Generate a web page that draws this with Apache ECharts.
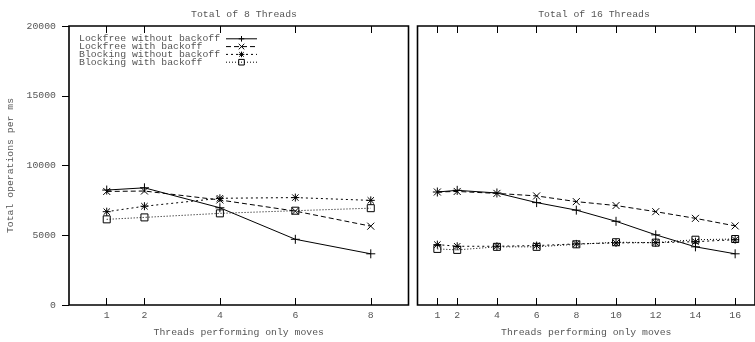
<!DOCTYPE html>
<html>
<head>
<meta charset="utf-8">
<script src="https://cdn.jsdelivr.net/npm/echarts@6/dist/echarts.min.js"></script>
<style>html,body{margin:0;padding:0;background:#fff}#c{width:755px;height:342px}</style>
</head>
<body>
<div id="c"></div>
<script>
// ---- data ----
var seriesNames = ['Lockfree without backoff', 'Lockfree with backoff', 'Blocking without backoff', 'Blocking with backoff'];
var panelTitles = ['Total of 8 Threads', 'Total of 16 Threads'];
var xLabel = 'Threads performing only moves';
var yLabel = 'Total operations per ms';

var threads8 = [1, 2, 4, 6, 8];
var lockfreeNoBackoff8 = [8240, 8400, 6970, 4710, 3670];
var lockfreeBackoff8 = [8140, 8170, 7530, 6730, 5650];
var blockingNoBackoff8 = [6690, 7080, 7650, 7700, 7500];
var blockingBackoff8 = [6140, 6280, 6570, 6760, 6940];

var threads16 = [1, 2, 4, 6, 8, 10, 12, 14, 16];
var lockfreeNoBackoff16 = [8100, 8220, 8030, 7340, 6800, 6000, 5030, 4170, 3670];
var lockfreeBackoff16 = [8100, 8140, 8000, 7820, 7410, 7130, 6690, 6210, 5670];
var blockingNoBackoff16 = [4330, 4210, 4210, 4260, 4380, 4450, 4470, 4540, 4680];
var blockingBackoff16 = [4020, 3950, 4170, 4170, 4350, 4500, 4470, 4680, 4730];

var yTicks = [0, 5000, 10000, 15000, 20000];

// ---- styling ----
var FONT = 'Liberation Mono';
var TXT = '#555';
var styles = [
  {symbol: 'path://M0,5L10,5M5,0L5,10', size: 9, dash: 'solid'},
  {symbol: 'path://M0,0L10,10M10,0L0,10', size: 7, dash: [5, 3]},
  {symbol: 'path://M0,5L10,5M5,0L5,10M1,1L9,9M9,1L1,9', size: 8, dash: [2, 3]},
  {symbol: 'path://M0,0L10,0L10,10L0,10Z', size: 7, dash: [1, 2]}
];

function zip(xs, ys) { return xs.map(function (x, i) { return [x, ys[i]]; }); }

var panelData = [
  [lockfreeNoBackoff8, lockfreeBackoff8, blockingNoBackoff8, blockingBackoff8],
  [lockfreeNoBackoff16, lockfreeBackoff16, blockingNoBackoff16, blockingBackoff16]
];
var panelX = [threads8, threads16];

var series = [];
for (var p = 0; p < 2; p++) {
  for (var s = 0; s < 4; s++) {
    series.push({
      type: 'line',
      name: seriesNames[s],
      xAxisIndex: p * 2,
      yAxisIndex: p,
      data: zip(panelX[p], panelData[p][s]),
      symbol: styles[s].symbol,
      symbolSize: styles[s].size,
      showAllSymbol: true,
      animation: false,
      lineStyle: {color: '#000', width: 1, type: styles[s].dash},
      itemStyle: {color: 'none', borderColor: '#000', borderWidth: 1},
      emphasis: {disabled: true}
    });
  }
}

function xAxisPair(gridIndex, maxV, ticks) {
  var bottom = {
    type: 'value', gridIndex: gridIndex, min: 0, max: maxV, position: 'bottom',
    name: xLabel, nameLocation: 'middle', nameGap: 22,
    nameTextStyle: {fontFamily: FONT, fontSize: 9.8, color: TXT},
    axisLine: {show: false},
    splitLine: {show: false},
    axisTick: {show: true, inside: true, length: 7, customValues: ticks, lineStyle: {color: '#000', width: 1}},
    axisLabel: {show: true, customValues: ticks, margin: 5, fontFamily: FONT, fontSize: 9.8, color: TXT}
  };
  var top = {
    type: 'value', gridIndex: gridIndex, min: 0, max: maxV, position: 'top',
    axisLine: {show: false},
    splitLine: {show: false},
    axisTick: {show: true, inside: true, length: 7, customValues: ticks, lineStyle: {color: '#000', width: 1}},
    axisLabel: {show: false, customValues: ticks}
  };
  return [bottom, top];
}

var option = {
  animation: false,
  title: [
    {text: panelTitles[0], left: 239, top: 4, textAlign: 'center',
     textStyle: {fontFamily: FONT, fontSize: 9.8, fontWeight: 'normal', color: TXT}},
    {text: panelTitles[1], left: 589, top: 4, textAlign: 'center',
     textStyle: {fontFamily: FONT, fontSize: 9.8, fontWeight: 'normal', color: TXT}}
  ],
  legend: {
    orient: 'vertical', left: 74, top: 28.5, align: 'right',
    itemWidth: 31, itemHeight: 7, itemGap: -2.8,
    selectedMode: false,
    data: seriesNames,
    formatter: '{a|{name}}',
    itemStyle: {color: 'none', borderColor: '#000', borderWidth: 1},
    lineStyle: {width: 1, color: '#000'},
    textStyle: {fontFamily: FONT, fontSize: 9.8, color: TXT,
      rich: {a: {fontFamily: FONT, fontSize: 9.8, color: TXT, width: 142, align: 'left'}}}
  },
  grid: [
    {left: 69, top: 26, right: 346.5, bottom: 33, show: true, borderColor: '#000', borderWidth: 1.6, backgroundColor: 'transparent'},
    {left: 417.5, top: 26, right: -6, bottom: 33, show: true, borderColor: '#000', borderWidth: 1.6, backgroundColor: 'transparent'}
  ],
  xAxis: [].concat(xAxisPair(0, 9, threads8), xAxisPair(1, 17, threads16)),
  yAxis: [
    {type: 'value', gridIndex: 0, min: 0, max: 20000, interval: 5000,
     name: yLabel, nameLocation: 'middle', nameGap: 54, nameRotate: 90,
     nameTextStyle: {fontFamily: FONT, fontSize: 9.8, color: TXT},
     axisLine: {show: false}, splitLine: {show: false},
     axisTick: {show: true, inside: false, length: 7, lineStyle: {color: '#000', width: 1}},
     axisLabel: {margin: 13, fontFamily: FONT, fontSize: 9.8, color: TXT,
       formatter: function (v) { return String(v); }}},
    {type: 'value', gridIndex: 1, min: 0, max: 20000, interval: 5000,
     axisLine: {show: false}, splitLine: {show: false},
     axisTick: {show: false}, axisLabel: {show: false}}
  ],
  series: series
};

var chart = echarts.init(document.getElementById('c'), null, {renderer: 'canvas'});
chart.setOption(option);
</script>
</body>
</html>
